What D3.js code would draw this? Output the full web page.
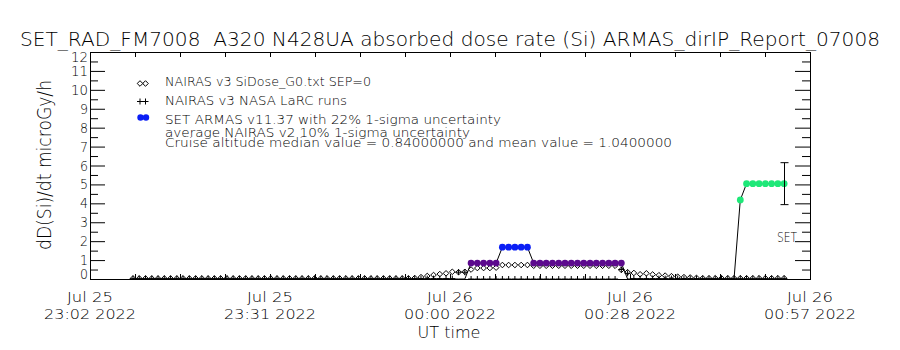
<!DOCTYPE html>
<html><head><meta charset="utf-8">
<script src="https://cdn.jsdelivr.net/npm/d3@7"></script>
<style>body{margin:0;background:#fff}svg{display:block}</style>
</head><body>
<svg id="chart" width="900" height="350"></svg>
<script>
// ---------- data ----------
const titleText = "SET_RAD_FM7008  A320 N428UA absorbed dose rate (Si) ARMAS_dirIP_Report_07008";
const yLabelText = "dD(Si)/dt microGy/h";
const xLabelText = "UT time";
const xDomain = ["2022-07-25T23:02:30Z", "2022-07-26T00:57:30Z"];
const xTickTimes = ["2022-07-25T23:02:30Z", "2022-07-25T23:31:15Z", "2022-07-26T00:00:00Z", "2022-07-26T00:28:45Z", "2022-07-26T00:57:30Z"];
const xTickLine1 = ["Jul 25", "Jul 25", "Jul 26", "Jul 26", "Jul 26"];
const xTickLine2 = ["23:02 2022", "23:31 2022", "00:00 2022", "00:28 2022", "00:57 2022"];
const yTicks = [0, 1, 2, 3, 4, 5, 6, 7, 8, 9, 10, 11, 12];
const firstSample = "2022-07-25T23:09:22Z"; // one sample per minute
// SET ARMAS absorbed dose rate (microGy/h)
const armas = [
  0,0,0,0,0,0,0,0,0,0,
  0,0,0,0,0,0,0,0,0,0,
  0,0,0,0,0,0,0,0,0,0,
  0,0,0,0,0,0,0,0,0,0,
  0,0,0,0,0,0,0,0,0,0,
  0,0,0,0,
  0.84,0.84,0.84,0.84,0.84,
  1.68,1.68,1.68,1.68,1.68,
  0.84,0.84,0.84,0.84,0.84,0.84,0.84,0.84,0.84,0.84,0.84,0.84,0.84,0.84,0.84,
  0,0,0,0,0,0,0,0,0,0,0,0,0,0,0,0,0,0,
  4.18,
  5.04,5.04,5.04,5.04,5.04,5.04,5.04
];
// NAIRAS v3 SiDose_G0 (diamonds)
const nairasG0 = [
  0.03,0.03,0.03,0.03,0.03,0.03,0.03,0.03,0.03,0.03,
  0.03,0.03,0.03,0.03,0.03,0.03,0.03,0.03,0.03,0.03,
  0.03,0.03,0.03,0.03,0.03,0.03,0.03,0.03,0.03,0.03,
  0.03,0.03,0.03,0.03,0.03,0.03,0.03,0.03,0.03,0.03,
  0.03,0.03,0.03,0.03,0.03,
  0.05,0.1,0.16,0.21,0.26,0.3,0.38,0.36,0.38,0.5,0.58,0.58,0.58,0.6,
  0.74,0.74,0.74,0.74,0.74,
  0.7,0.7,0.7,0.7,0.7,0.7,0.7,0.7,0.7,0.7,0.7,0.7,0.7,0.7,
  0.48,0.36,0.32,0.25,0.3,0.24,0.2,0.18,0.15,0.12,0.1,0.08,0.06,
  0.04,0.04,0.04,0.04,0.04,0.04,0.04,0.04,0.04,0.04,0.04,0.04,0.04,0.04
];
// NAIRAS v3 NASA LaRC runs (plus)
const nairasLaRC = [
  0.02,0.02,0.02,0.02,0.02,0.02,0.02,0.02,0.02,0.02,
  0.02,0.02,0.02,0.02,0.02,0.02,0.02,0.02,0.02,0.02,
  0.02,0.02,0.02,0.02,0.02,0.02,0.02,0.02,0.02,0.02,
  0.02,0.02,0.02,0.02,0.02,0.02,0.02,0.02,0.02,0.02,
  0.02,0.02,0.02,0.02,0.02,0.02,0.02,0.02,0.02,0.02,
  0.02,0.02,
  0.36,0.36,
  0,0,0,0,0,0,0,0,0,0,0,0,0,0,0,0,0,0,0,0,0,0,0,0,
  0.5,0.3,
  0.02,0.02,0.02,0.02,0.02,0.02,0.02,0.02,0.02,0.02,
  0.02,0.02,0.02,0.02,0.02,0.02,0.02,0.02,0.02,0.02,
  0.02,0.02,0.02,0.02,0.02
];
const errValue = 5.04, errSigma = 0.22;
const legendLabels = [
  "NAIRAS v3 SiDose_G0.txt SEP=0",
  "NAIRAS v3 NASA LaRC runs",
  "SET ARMAS v11.37 with 22% 1-sigma uncertainty",
  "average NAIRAS v2 10% 1-sigma uncertainty",
  "Cruise altitude median value = 0.84000000 and mean value = 1.0400000"
];
const sideLabel = "SET";

// ---------- layout ----------
const L = 90, R = 810, T = 52, B = 279;
const FONT = "'DejaVu Sans','Liberation Sans',sans-serif";
const FW = 200;
const svg = d3.select("#chart");
svg.append("rect").attr("width", 900).attr("height", 350).attr("fill", "#fff");

const x = d3.scaleUtc().domain(xDomain.map(d => new Date(d))).range([L, R]);
const y = d3.scaleLinear().domain([0, 12]).range([B, T]);
const t0 = new Date(firstSample);
const times = armas.map((_, i) => d3.utcMinute.offset(t0, i));

const colorFor = d3.scaleThreshold().domain([0.01, 1.2, 3])
  .range(["none", "#5c0a8e", "#0a1ef5", "#1ee878"]);

svg.append("defs").append("clipPath").attr("id", "clip")
  .append("rect").attr("x", L).attr("y", T).attr("width", R - L).attr("height", B - T + 1);

// ---------- axes ----------
const majorT = xTickTimes.map(d => new Date(d));
const minorT = [];
for (let i = 0; i < majorT.length - 1; i++) {
  const a = +majorT[i], b = +majorT[i + 1];
  for (let j = 0; j < 4; j++) minorT.push(new Date(a + (b - a) * j / 4));
}
minorT.push(majorT[majorT.length - 1]);

function clean(g) { g.select(".domain").remove(); g.selectAll("text").remove(); g.selectAll("line").attr("stroke", "#000"); }

svg.append("g").attr("transform", `translate(0,${T})`)
  .call(d3.axisTop(x).tickValues(minorT).tickSize(-5).tickFormat("")).call(clean);
svg.append("g").attr("transform", `translate(0,${B})`)
  .call(d3.axisBottom(x).tickValues(minorT).tickSize(-5).tickFormat("")).call(clean);

const yMinor = d3.range(0.5, 12, 1);
svg.append("g").attr("transform", `translate(${L},0)`)
  .call(d3.axisLeft(y).tickValues(yTicks).tickSize(-15).tickFormat("")).call(clean);
svg.append("g").attr("transform", `translate(${L},0)`)
  .call(d3.axisLeft(y).tickValues(yMinor).tickSize(-8).tickFormat("")).call(clean);
svg.append("g").attr("transform", `translate(${R},0)`)
  .call(d3.axisRight(y).tickValues(yTicks).tickSize(-15).tickFormat("")).call(clean);
svg.append("g").attr("transform", `translate(${R},0)`)
  .call(d3.axisRight(y).tickValues(yMinor).tickSize(-8).tickFormat("")).call(clean);

svg.append("rect").attr("x", L + 0.5).attr("y", T + 0.5).attr("width", R - L).attr("height", B - T)
  .attr("fill", "none").attr("stroke", "#000");

// y tick labels (end labels pulled inside the frame as in the reference)
svg.append("g").selectAll("text").data(yTicks).join("text")
  .attr("x", 88).attr("y", d => d === 12 ? 61.5 : d === 0 ? 279 : y(d) + 5)
  .attr("text-anchor", "end").attr("font-family", FONT).attr("font-weight", FW).attr("font-size", 13.5)
  .attr("textLength", d => d >= 10 ? 17 : 8).attr("lengthAdjust", "spacingAndGlyphs")
  .text(d => d);

// x tick labels
const xl = svg.append("g").attr("font-family", FONT).attr("font-weight", FW).attr("text-anchor", "middle");
xl.selectAll("text.l1").data(majorT).join("text").attr("class", "l1")
  .attr("x", d => x(d)).attr("y", 301.5).attr("font-size", 14)
  .attr("textLength", 46).attr("lengthAdjust", "spacingAndGlyphs")
  .text((d, i) => xTickLine1[i]);
xl.selectAll("text.l2").data(majorT).join("text").attr("class", "l2")
  .attr("x", d => x(d)).attr("y", 318.5).attr("font-size", 14)
  .attr("textLength", 92).attr("lengthAdjust", "spacingAndGlyphs")
  .text((d, i) => xTickLine2[i]);
xl.append("text").attr("x", (L + R) / 2 - 1).attr("y", 337.5).attr("font-size", 15)
  .attr("textLength", 63).attr("lengthAdjust", "spacingAndGlyphs").text(xLabelText);

// title
svg.append("text").attr("x", 450).attr("y", 46).attr("text-anchor", "middle")
  .attr("font-family", FONT).attr("font-weight", FW).attr("font-size", 20)
  .style("white-space", "pre")
  .attr("textLength", 860).attr("lengthAdjust", "spacingAndGlyphs").text(titleText);

// y label
svg.append("text").attr("transform", "translate(51,165) rotate(-90)").attr("text-anchor", "middle")
  .attr("font-family", FONT).attr("font-weight", FW).attr("font-size", 19)
  .attr("textLength", 170).attr("lengthAdjust", "spacingAndGlyphs").text(yLabelText);

// ---------- marks ----------
const plot = svg.append("g").attr("clip-path", "url(#clip)");
const diamond = (cx, cy, s) => `M${cx},${cy - s}L${cx + s},${cy}L${cx},${cy + s}L${cx - s},${cy}Z`;
const plus = (cx, cy, s) => `M${cx - s},${cy}H${cx + s}M${cx},${cy - s}V${cy + s}`;

plot.append("g").selectAll("path").data(nairasG0).join("path")
  .attr("d", (d, i) => diamond(x(times[i]), y(d), 2.8))
  .attr("fill", "none").attr("stroke", "#000").attr("stroke-width", 1);

plot.append("g").selectAll("path").data(nairasLaRC).join("path")
  .attr("d", (d, i) => plus(x(times[i]), y(d), 3))
  .attr("fill", "none").attr("stroke", "#000").attr("stroke-width", 1);

plot.append("path").datum(armas)
  .attr("d", d3.line().x((d, i) => x(times[i])).y(d => y(d)))
  .attr("fill", "none").attr("stroke", "#000").attr("stroke-width", 1);

plot.append("g").selectAll("circle").data(armas.map((v, i) => ({ v, t: times[i] })).filter(d => d.v > 0.01))
  .join("circle").attr("cx", d => x(d.t)).attr("cy", d => y(d.v)).attr("r", 3.4)
  .attr("fill", d => colorFor(d.v));

const ex = Math.round(x(times[times.length - 1])) + 0.5;
const eLo = y(errValue * (1 - errSigma)), eHi = y(errValue * (1 + errSigma));
svg.append("path").attr("d", `M${ex},${eLo}V${eHi}M${ex - 4},${eLo}H${ex + 4}M${ex - 4},${eHi}H${ex + 4}`)
  .attr("stroke", "#000").attr("fill", "none");

svg.append("text").attr("x", 777).attr("y", 242).attr("font-family", FONT).attr("font-weight", FW).attr("font-size", 14)
  .attr("textLength", 20).attr("lengthAdjust", "spacingAndGlyphs").text(sideLabel);

// ---------- legend ----------
const lg = svg.append("g");
const symX = [140, 145.5], rowY = [83.5, 101.5, 117.5];
symX.forEach(sx => {
  lg.append("path").attr("d", diamond(sx, rowY[0], 2.8)).attr("fill", "none").attr("stroke", "#000");
  lg.append("path").attr("d", plus(sx, rowY[1], 3)).attr("fill", "none").attr("stroke", "#000");
  lg.append("circle").attr("cx", sx + 0.5).attr("cy", rowY[2]).attr("r", 3.2).attr("fill", colorFor(1.68));
});
const legBase = [86, 105, 124, 137, 147];
const legWidth = [206, 182, 336, 305, 507];
lg.selectAll("text").data(legendLabels).join("text")
  .attr("x", 165).attr("y", (d, i) => legBase[i])
  .attr("font-family", FONT).attr("font-weight", FW).attr("font-size", 13)
  .attr("textLength", (d, i) => legWidth[i]).attr("lengthAdjust", "spacingAndGlyphs")
  .text(d => d);
</script>
</body></html>
